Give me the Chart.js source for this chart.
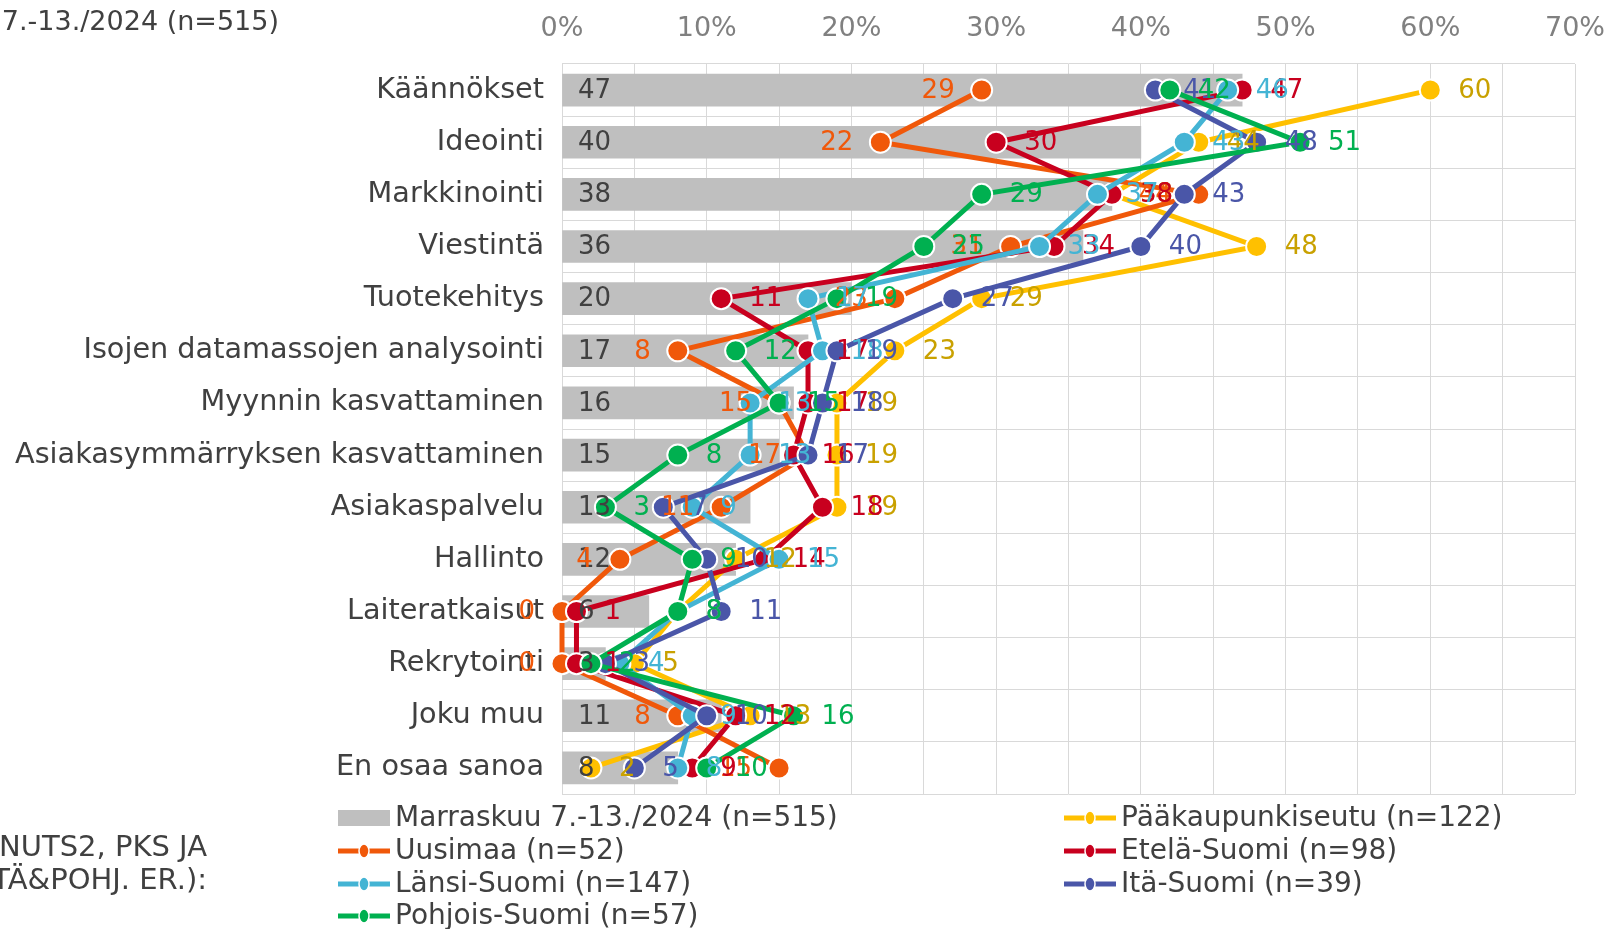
<!DOCTYPE html>
<html><head><meta charset="utf-8">
<script src="https://cdn.jsdelivr.net/npm/chart.js@4.4.1/dist/chart.umd.min.js"></script>
<style>html,body{margin:0;padding:0;background:#fff;overflow:hidden}</style>
</head><body>
<canvas id="c" width="1609" height="929"></canvas>
<script>
const categories = ['Käännökset','Ideointi','Markkinointi','Viestintä','Tuotekehitys','Isojen datamassojen analysointi','Myynnin kasvattaminen','Asiakasymmärryksen kasvattaminen','Asiakaspalvelu','Hallinto','Laiteratkaisut','Rekrytointi','Joku muu','En osaa sanoa'];
const total   = [47,40,38,36,20,17,16,15,13,12,6,3,11,8];
const pks     = [60,44,38,48,29,23,19,19,19,12,8,5,13,2];
const uusimaa = [29,22,44,31,23,8,15,17,11,4,0,0,8,15];
const etela   = [47,30,38,34,11,17,17,16,18,14,1,1,12,9];
const lansi   = [46,43,37,33,17,18,13,13,9,15,8,4,9,8];
const ita     = [41,48,43,40,27,19,18,17,7,10,11,3,10,5];
const pohjois = [42,51,29,25,19,12,15,8,3,9,8,2,16,10];
const xTickValues = [0,10,20,30,40,50,60,70];
const seriesNames = ['Marraskuu 7.-13./2024 (n=515)','Pääkaupunkiseutu (n=122)','Uusimaa (n=52)','Etelä-Suomi (n=98)','Länsi-Suomi (n=147)','Itä-Suomi (n=39)','Pohjois-Suomi (n=57)'];
const titleText = 'Marraskuu 7.-13./2024 (n=515)';
const sideText = ['NUTS2, PKS JA','TÄ&POHJ. ER.):'];

const FONT = '"DejaVu Sans", Verdana, sans-serif';
const colors = ['#BFBFBF','#FFC000','#F0580A','#C8001E','#44B4D4','#4A56A8','#00B050'];
const labelColors = ['#404040','#C9A100','#F0580A','#C8001E','#44B4D4','#4A56A8','#00B050'];
const lineData = [null,pks,uusimaa,etela,lansi,ita,pohjois];
const orders = [10,6,5,4,3,2,1];

const datasets = [{
  type:'bar', label:seriesNames[0], data: total, backgroundColor: colors[0],
  barThickness: 32, order: orders[0]
}];
for (let i=1;i<7;i++){
  datasets.push({
    type:'line', label:seriesNames[i], data: lineData[i],
    borderColor: colors[i], backgroundColor: colors[i],
    pointBackgroundColor: colors[i], pointBorderColor:'#FFFFFF',
    pointBorderWidth: 2, pointRadius: 10.5, borderWidth: 5,
    tension: 0, order: orders[i], clip: false
  });
}

const labelPlugin = {
  id:'valueLabels',
  afterDatasetsDraw(chart){
    const ctx = chart.ctx;
    const xs = chart.scales.x;
    ctx.save();
    ctx.font = '26px ' + FONT;
    ctx.textBaseline = 'middle';
    const bm = chart.getDatasetMeta(0);
    bm.data.forEach((el,i)=>{
      ctx.fillStyle = labelColors[0]; ctx.textAlign='left';
      ctx.fillText(String(chart.data.datasets[0].data[i]), xs.getPixelForValue(0)+16, el.y+1);
    });
    for (let d=1; d<7; d++){
      const meta = chart.getDatasetMeta(d);
      meta.data.forEach((el,i)=>{
        const v = chart.data.datasets[d].data[i];
        ctx.fillStyle = labelColors[d];
        if (d===2){ ctx.textAlign='right'; ctx.fillText(String(v), el.x-27, el.y+1); }
        else { ctx.textAlign='left'; ctx.fillText(String(v), el.x+28, el.y+1); }
      });
    }
    ctx.restore();
  },
  afterDraw(chart){
    const ctx = chart.ctx;
    ctx.save();
    ctx.textBaseline='middle';
    ctx.fillStyle='#404040';
    ctx.font = '27px ' + FONT;
    ctx.textAlign='right';
    ctx.fillText(titleText, 279, 23);
    ctx.font = '29px ' + FONT;
    ctx.fillText(sideText[0], 207, 848);
    ctx.fillText(sideText[1], 207, 881);
    // legend
    const rowsY = [818,851,884,916];
    const colMarker = [338,1064];
    const colText = [395,1121];
    ctx.font = '28px ' + FONT;
    ctx.textAlign='left';
    for (let i=0;i<7;i++){
      const col = i%2, row = Math.floor(i/2);
      const y = rowsY[row], mx = colMarker[col];
      if (i===0){
        ctx.fillStyle = colors[0];
        ctx.fillRect(mx, y-8, 52, 16);
      } else {
        ctx.strokeStyle = colors[i]; ctx.lineWidth = 5;
        ctx.beginPath(); ctx.moveTo(mx, y); ctx.lineTo(mx+52, y); ctx.stroke();
        ctx.fillStyle = colors[i]; ctx.strokeStyle='#fff'; ctx.lineWidth=1.5;
        ctx.beginPath(); ctx.ellipse(mx+26, y, 5, 7, 0, 0, Math.PI*2); ctx.fill(); ctx.stroke();
      }
      ctx.fillStyle = '#404040';
      ctx.fillText(seriesNames[i], colText[col], y+1);
    }
    ctx.restore();
  }
};

new Chart(document.getElementById('c'), {
  type:'bar',
  data:{ labels: categories, datasets },
  options:{
    indexAxis:'y', responsive:false, animation:false, devicePixelRatio:1,
    layout:{ padding:{ left:0, right:34, top:0, bottom:135 } },
    plugins:{ legend:{display:false}, tooltip:{enabled:false} },
    scales:{
      x:{
        type:'linear', position:'top', min:0, max:70,
        afterBuildTicks(s){ const t=[]; for(let v=0; v<=70; v+=5) t.push({value:v}); s.ticks=t; },
        ticks:{ callback:(v)=> xTickValues.includes(v) ? v+'%' : '', color:'#808080',
                font:{family:FONT,size:27}, padding:19, maxRotation:0, autoSkip:false },
        grid:{ color:'#D9D9D9', drawTicks:false, lineWidth:1 },
        border:{ display:false },
        afterFit(s){ s.height = 64; s.paddingLeft = 0; s.paddingRight = 0; }
      },
      y:{
        ticks:{ color:'#404040', font:{family:FONT,size:28.7}, padding:18, autoSkip:false },
        grid:{ color:'#D9D9D9', drawTicks:false, offset:true, lineWidth:1 },
        border:{ display:false },
        afterFit(s){ s.width = 562; s.paddingTop = 0; s.paddingBottom = 0; }
      }
    }
  },
  plugins:[labelPlugin]
});
</script>
</body></html>
